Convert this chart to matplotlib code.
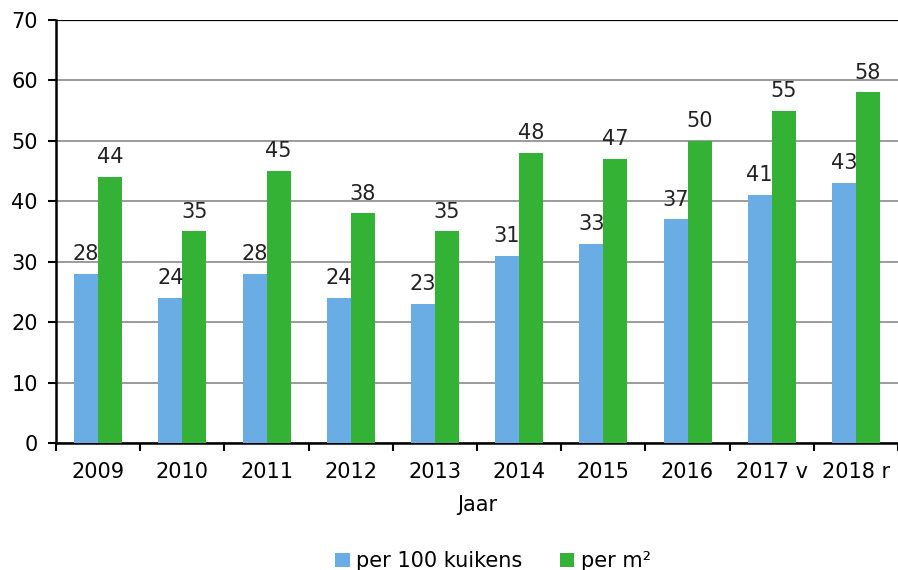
import matplotlib.pyplot as plt
import numpy as np

# Data
jaren = ['2009', '2010', '2011', '2012', '2013', '2014', '2015', '2016', '2017 v', '2018 r']
per_100_kuikens = [28, 24, 28, 24, 23, 31, 33, 37, 41, 43]
per_m2 = [44, 35, 45, 38, 35, 48, 47, 50, 55, 58]

plt.rcParams['font.family'] = ['DejaVu Sans']
plt.rcParams['font.size'] = 15

blue = '#6aade4'
green = '#34b236'

fig = plt.figure(figsize=(8.98, 5.70), dpi=100)
ax = fig.add_axes([0.0624, 0.2228, 0.9376, 0.7422])

x = np.arange(len(jaren))
w = 0.285
b1 = ax.bar(x - w / 2, per_100_kuikens, w, color=blue, label='per 100 kuikens', zorder=3)
b2 = ax.bar(x + w / 2, per_m2, w, color=green, label='per m²', zorder=3)

for bars in (b1, b2):
    for rect in bars:
        h = rect.get_height()
        ax.annotate(f'{h:g}', (rect.get_x() + rect.get_width() / 2, h),
                    xytext=(0, 7), textcoords='offset points',
                    ha='center', va='bottom', color='#222222')

ax.set_xlim(-0.5, len(jaren) - 0.5)
ax.set_ylim(0, 70)
ax.set_yticks(range(0, 71, 10))
ax.yaxis.grid(True, color='#8a8a8a', linewidth=1.2, zorder=0)
ax.axhline(70, color='black', linewidth=1.6, zorder=4)

# category labels at centers, tick marks at boundaries
ax.set_xticks(x)
ax.set_xticklabels(jaren)
ax.tick_params(axis='x', which='major', length=0, pad=14)
ax.set_xticks(np.arange(-0.5, len(jaren), 1), minor=True)
ax.tick_params(axis='x', which='minor', length=6, width=1.5, direction='out')
ax.tick_params(axis='y', length=6, width=1.5, direction='out', pad=7)

for s in ['top', 'right']:
    ax.spines[s].set_visible(False)
ax.spines['left'].set_linewidth(1.8)
ax.spines['bottom'].set_linewidth(1.8)

ax.set_xlabel('Jaar', labelpad=9)

fig.legend(handles=[b1, b2], loc='lower center', bbox_to_anchor=(0.549, -0.035),
           ncol=2, frameon=False, handlelength=0.7, handleheight=0.7,
           handletextpad=0.3, columnspacing=1.8)

fig.savefig('out.png', dpi=100)
